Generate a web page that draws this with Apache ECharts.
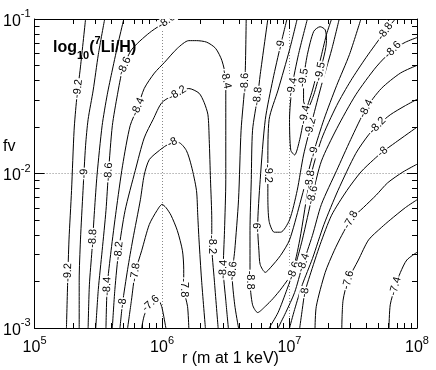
<!DOCTYPE html>
<html>
<head>
<meta charset="utf-8">
<title>Li/H contours</title>
<script src="https://cdn.jsdelivr.net/npm/echarts@6/dist/echarts.min.js"></script>
<style>
    html, body { margin: 0; padding: 0; background: #fff; }
    #chart { width: 436px; height: 370px; }
</style>
</head>
<body>
<div id="chart"></div>
<script>
// all coordinates are log10(r) , log10(fv)
var xMajor = [5, 6, 7, 8];
var yMajor = [-3, -2, -1];

// left family
var m92L = [[5.25,-3.00],[5.26,-2.69],[5.27,-2.43],[5.29,-2.11],[5.31,-1.72],[5.33,-1.52],[5.36,-1.31],[5.40,-1.00]];
var m90L = [[5.35,-3.00],[5.35,-2.69],[5.36,-2.43],[5.38,-2.11],[5.40,-1.82],[5.42,-1.65],[5.46,-1.46],[5.50,-1.23],[5.55,-1.00]];
var m88L = [[5.42,-3.00],[5.43,-2.72],[5.45,-2.50],[5.47,-2.24],[5.49,-2.01],[5.53,-1.69],[5.57,-1.49],[5.61,-1.33],[5.66,-1.14],[5.70,-1.00]];
var m86L = [[5.48,-3.00],[5.50,-2.75],[5.53,-2.50],[5.56,-2.24],[5.58,-1.99],[5.61,-1.69],[5.65,-1.49],[5.69,-1.33],[5.76,-1.20],[5.90,-1.09],[6.06,-1.00]];
// arches around the ridge near r = 1e6
var m84A = [[5.56,-3.00],[5.57,-2.73],[5.60,-2.50],[5.64,-2.24],[5.69,-1.95],[5.75,-1.69],[5.81,-1.57],[5.86,-1.45],[5.94,-1.35],[6.02,-1.28],[6.12,-1.19],[6.21,-1.14],[6.27,-1.14],[6.35,-1.15],[6.42,-1.19],[6.47,-1.27],[6.50,-1.39],[6.50,-1.57],[6.50,-1.72],[6.50,-2.04],[6.49,-2.37],[6.48,-2.62],[6.50,-2.82],[6.52,-3.00]];
var m82A = [[5.61,-3.00],[5.63,-2.75],[5.66,-2.50],[5.71,-2.24],[5.79,-1.98],[5.86,-1.77],[5.93,-1.65],[6.00,-1.54],[6.12,-1.48],[6.21,-1.45],[6.29,-1.48],[6.33,-1.54],[6.36,-1.62],[6.37,-1.78],[6.38,-2.04],[6.39,-2.30],[6.39,-2.46],[6.41,-2.69],[6.44,-3.00]];
var m80A = [[5.67,-3.00],[5.69,-2.84],[5.73,-2.62],[5.77,-2.43],[5.83,-2.17],[5.86,-2.01],[5.90,-1.91],[5.98,-1.85],[6.03,-1.82],[6.08,-1.80],[6.13,-1.80],[6.19,-1.85],[6.23,-1.95],[6.27,-2.11],[6.28,-2.27],[6.29,-2.43],[6.31,-2.69],[6.34,-3.00]];
var m78A = [[5.73,-3.00],[5.76,-2.82],[5.79,-2.64],[5.84,-2.50],[5.90,-2.33],[5.96,-2.24],[6.00,-2.20],[6.03,-2.22],[6.07,-2.27],[6.12,-2.37],[6.16,-2.50],[6.17,-2.62],[6.17,-2.74],[6.20,-2.86],[6.21,-3.00]];
var m76A = [[5.84,-3.00],[5.86,-2.92],[5.90,-2.85],[5.94,-2.82],[5.98,-2.83],[6.00,-2.87],[6.03,-3.00]];
// valley near r = 1e7
var m86M = [[6.66,-1.00],[6.65,-1.41],[6.62,-1.72],[6.60,-2.17],[6.57,-2.50],[6.55,-2.66],[6.57,-2.85],[6.60,-3.00]];
var m88U = [[6.83,-1.00],[6.77,-1.36],[6.75,-1.50],[6.71,-1.72],[6.70,-2.04],[6.69,-2.37],[6.69,-2.69],[6.71,-2.85],[6.75,-2.90],[6.81,-2.86],[6.87,-2.81],[6.94,-2.74],[7.02,-2.64],[7.08,-2.43],[7.16,-2.04],[7.25,-1.78],[7.37,-1.56],[7.48,-1.40],[7.60,-1.25],[7.75,-1.08],[7.83,-1.00]];
var m90U = [[6.98,-1.00],[6.93,-1.17],[6.87,-1.39],[6.81,-1.65],[6.77,-2.04],[6.75,-2.35],[6.76,-2.50],[6.77,-2.59],[6.81,-2.64],[6.85,-2.61],[6.93,-2.53],[7.00,-2.43],[7.08,-2.20],[7.19,-1.86],[7.27,-1.65],[7.37,-1.43],[7.47,-1.23],[7.56,-1.00]];
var m92U = [[7.06,-1.00],[7.00,-1.20],[6.91,-1.46],[6.84,-1.65],[6.83,-1.91],[6.83,-2.15],[6.84,-2.31],[6.88,-2.38],[6.93,-2.38],[7.00,-2.30],[7.06,-2.11],[7.11,-1.88],[7.18,-1.65],[7.25,-1.43],[7.33,-1.20],[7.39,-1.00]];
var m94U = [[7.14,-1.00],[7.07,-1.23],[7.02,-1.44],[7.00,-1.65],[7.01,-1.85],[7.04,-1.88],[7.08,-1.78],[7.12,-1.62],[7.18,-1.46],[7.24,-1.27],[7.29,-1.10],[7.33,-1.00]];
var m95O = [[7.11,-1.38],[7.14,-1.23],[7.19,-1.08],[7.24,-1.05],[7.28,-1.07],[7.29,-1.14],[7.24,-1.34],[7.19,-1.49],[7.14,-1.58],[7.11,-1.53],[7.11,-1.38]];
// right family
var m86R = [[6.84,-3.00],[6.91,-2.90],[6.98,-2.75],[7.04,-2.61],[7.10,-2.43],[7.18,-2.14],[7.25,-1.92],[7.37,-1.71],[7.52,-1.49],[7.68,-1.31],[7.81,-1.20],[7.91,-1.15],[8.00,-1.12]];
var m84R = [[6.91,-3.00],[6.97,-2.90],[7.04,-2.77],[7.10,-2.60],[7.18,-2.40],[7.25,-2.20],[7.37,-1.98],[7.48,-1.78],[7.60,-1.58],[7.72,-1.45],[7.87,-1.35],[8.00,-1.30]];
var m82R = [[7.00,-3.00],[7.04,-2.88],[7.10,-2.72],[7.18,-2.55],[7.27,-2.33],[7.38,-2.11],[7.52,-1.87],[7.62,-1.75],[7.69,-1.69],[7.79,-1.62],[7.91,-1.56],[8.00,-1.52]];
var m80R = [[7.08,-3.00],[7.10,-2.88],[7.12,-2.77],[7.16,-2.66],[7.24,-2.46],[7.33,-2.27],[7.45,-2.11],[7.56,-1.99],[7.66,-1.91],[7.73,-1.86],[7.83,-1.80],[8.00,-1.70]];
var m78R = [[7.20,-3.00],[7.21,-2.86],[7.28,-2.64],[7.35,-2.50],[7.41,-2.40],[7.48,-2.30],[7.58,-2.22],[7.68,-2.14],[7.77,-2.06],[7.89,-1.99],[8.00,-1.94]];
var m76R = [[7.41,-3.00],[7.42,-2.82],[7.46,-2.69],[7.54,-2.56],[7.62,-2.43],[7.72,-2.35],[7.79,-2.30],[7.91,-2.22],[8.00,-2.17]];
var m74R = [[7.78,-3.00],[7.79,-2.85],[7.83,-2.73],[7.87,-2.64],[7.92,-2.56],[8.00,-2.51]];

// where the level labels sit on each line
var m92L_tags = [[5.33,-1.45],[5.26,-2.64]];
var m90L_tags = [[5.39,-2.00]];
var m88L_tags = [[5.46,-2.42]];
var m86L_tags = [[5.58,-1.99],[5.69,-1.30],[6.04,-1.02]];
var m84A_tags = [[5.81,-1.57],[6.50,-1.39],[5.57,-2.73],[6.48,-2.62]];
var m82A_tags = [[5.66,-2.50],[6.12,-1.48],[6.39,-2.46]];
var m80A_tags = [[5.69,-2.84],[6.08,-1.80]];
var m78A_tags = [[5.79,-2.64],[6.17,-2.74]];
var m76A_tags = [[5.91,-2.84]];
var m86M_tags = [[6.65,-1.41],[6.55,-2.63]];
var m88U_tags = [[6.75,-1.50],[6.69,-2.69],[7.16,-2.04],[7.75,-1.08]];
var m90U_tags = [[6.93,-1.17],[6.75,-2.35],[7.19,-1.86]];
var m92U_tags = [[6.83,-2.00],[7.17,-1.70]];
var m94U_tags = [[7.02,-1.44],[7.12,-1.62]];
var m95O_tags = [[7.11,-1.38],[7.24,-1.34]];
var m86R_tags = [[7.18,-2.14],[7.81,-1.20],[7.03,-2.63]];
var m84R_tags = [[7.60,-1.58],[7.08,-2.57]];
var m82R_tags = [[7.69,-1.69]];
var m80R_tags = [[7.73,-1.86],[7.12,-2.77]];
var m78R_tags = [[7.48,-2.30]];
var m76R_tags = [[7.46,-2.69]];
var m74R_tags = [[7.83,-2.73]];

var contours = [
    {level: -9.2, pts: m92L, tags: m92L_tags},
    {level: -9,   pts: m90L, tags: m90L_tags},
    {level: -8.8, pts: m88L, tags: m88L_tags},
    {level: -8.6, pts: m86L, tags: m86L_tags},
    {level: -8.4, pts: m84A, tags: m84A_tags},
    {level: -8.2, pts: m82A, tags: m82A_tags},
    {level: -8,   pts: m80A, tags: m80A_tags},
    {level: -7.8, pts: m78A, tags: m78A_tags},
    {level: -7.6, pts: m76A, tags: m76A_tags},
    {level: -8.6, pts: m86M, tags: m86M_tags},
    {level: -8.8, pts: m88U, tags: m88U_tags},
    {level: -9,   pts: m90U, tags: m90U_tags},
    {level: -9.2, pts: m92U, tags: m92U_tags},
    {level: -9.4, pts: m94U, tags: m94U_tags},
    {level: -9.5, pts: m95O, tags: m95O_tags},
    {level: -8.6, pts: m86R, tags: m86R_tags},
    {level: -8.4, pts: m84R, tags: m84R_tags},
    {level: -8.2, pts: m82R, tags: m82R_tags},
    {level: -8,   pts: m80R, tags: m80R_tags},
    {level: -7.8, pts: m78R, tags: m78R_tags},
    {level: -7.6, pts: m76R, tags: m76R_tags},
    {level: -7.4, pts: m74R, tags: m74R_tags}
];

// log spaced minor ticks 2..9 in every decade
function minorTicks(lo, hi) {
    var out = [];
    for (var d = lo; d < hi; d++) {
        for (var k = 2; k <= 9; k++) out.push(d + Math.log10(k));
    }
    return out;
}
var xMinor = minorTicks(5, 8);
var yMinor = minorTicks(-3, -1);

var FONT = '"Liberation Sans", Arial, Helvetica, sans-serif';
var powRich = {
    b: {fontSize: 16, fontFamily: FONT, color: '#000', padding: [5, 0, 0, 0]},
    s: {fontSize: 11, fontFamily: FONT, color: '#000', verticalAlign: 'top'}
};
function powLabel(v) { return '{b|10}{s|' + Math.round(v) + '}'; }

function mkAxis(pos, major, isX, lo, hi) {
    var minorVals = isX ? xMinor : yMinor;
    var main = {
        type: 'value', min: lo, max: hi, interval: 1, position: pos,
        axisLine: {show: true, onZero: false, lineStyle: {color: '#000', width: 1}},
        axisTick: {show: true, inside: true, length: 10, lineStyle: {color: '#000'}},
        axisLabel: {show: false},
        splitLine: {show: false}
    };
    var minor = {
        type: 'value', min: lo, max: hi, position: pos,
        axisLine: {show: false, onZero: false},
        axisTick: {show: true, inside: true, length: 5, customValues: minorVals, lineStyle: {color: '#000'}},
        axisLabel: {show: false},
        splitLine: {show: false}
    };
    if (major) {
        main.axisLabel = {show: true, formatter: powLabel, rich: powRich, margin: isX ? 7 : 4};
        main.splitLine = {show: true, lineStyle: {color: '#888', type: [1, 2], width: 1}};
    }
    return [main, minor];
}

var xAxes = mkAxis('bottom', true, true, 5, 8).concat(mkAxis('top', false, true, 5, 8));
var yAxes = mkAxis('left', true, false, -3, -1).concat(mkAxis('right', false, false, -3, -1));

var series = [];
contours.forEach(function (c) {
    series.push({
        type: 'line', data: c.pts, xAxisIndex: 0, yAxisIndex: 0,
        symbol: 'none', smooth: 0.25, silent: true, clip: true,
        lineStyle: {color: '#000', width: 1}, z: 2
    });
});

var tagData = [];
contours.forEach(function (c, ci) {
    c.tags.forEach(function (t) { tagData.push([t[0], t[1], ci]); });
});

series.push({
    type: 'custom', xAxisIndex: 0, yAxisIndex: 0, z: 5, clip: true, silent: true,
    data: tagData,
    encode: {x: 0, y: 1},
    renderItem: function (params, api) {
        var c = contours[api.value(2)];
        var p = api.coord([api.value(0), api.value(1)]);
        // snap onto the nearest segment of its line and follow its direction
        var best = null;
        for (var i = 0; i < c.pts.length - 1; i++) {
            var a = api.coord(c.pts[i]), b = api.coord(c.pts[i + 1]);
            var dx = b[0] - a[0], dy = b[1] - a[1];
            var L = dx * dx + dy * dy || 1;
            var t = ((p[0] - a[0]) * dx + (p[1] - a[1]) * dy) / L;
            t = Math.max(0, Math.min(1, t));
            var qx = a[0] + t * dx, qy = a[1] + t * dy;
            var d = (qx - p[0]) * (qx - p[0]) + (qy - p[1]) * (qy - p[1]);
            if (!best || d < best.d) best = {d: d, x: qx, y: qy, ang: Math.atan2(dy, dx)};
        }
        var ang = best.ang;
        if (ang > Math.PI / 2) ang -= Math.PI;
        if (ang <= -Math.PI / 2) ang += Math.PI;
        return {
            type: 'text', x: best.x, y: best.y, rotation: -ang,
            style: {
                text: String(c.level), fill: '#000', font: '11px ' + FONT,
                align: 'center', verticalAlign: 'middle',
                backgroundColor: '#fff', padding: [0, 1]
            }
        };
    }
});

var chart = echarts.init(document.getElementById('chart'), null, {renderer: 'canvas'});
chart.setOption({
    animation: false,
    backgroundColor: '#fff',
    grid: {left: 28, top: 19, width: 389, height: 309, containLabel: false},
    xAxis: xAxes,
    yAxis: yAxes,
    series: series,
    graphic: [
        {
            type: 'text', left: 53, top: 35, z: 10,
            style: {
                text: '{a|log}{sub|10}{a|(}{sup|7}{a|Li/H)}',
                rich: {
                    a: {fontSize: 16, fontWeight: 'bold', fontFamily: FONT, fill: '#000', padding: [5, 0, 5, 0]},
                    sub: {fontSize: 11, fontWeight: 'bold', fontFamily: FONT, fill: '#000', verticalAlign: 'bottom', padding: [3, 0, 0, 0]},
                    sup: {fontSize: 11, fontWeight: 'bold', fontFamily: FONT, fill: '#000', verticalAlign: 'top'}
                }
            }
        },
        {type: 'text', left: 3, top: 139, style: {text: 'fv', font: '16px ' + FONT, fill: '#000'}},
        {type: 'text', left: 182, top: 351, style: {text: 'r (m at 1 keV)', font: '16px ' + FONT, fill: '#000'}}
    ]
});
</script>
</body>
</html>
